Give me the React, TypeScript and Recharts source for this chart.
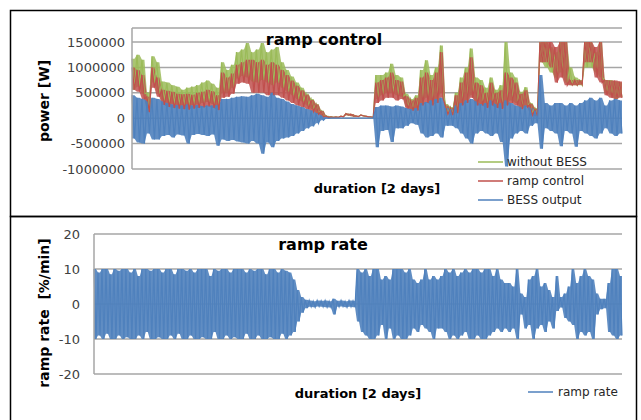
import React from 'react';
import { ComposedChart, Line, Area, XAxis, YAxis, CartesianGrid } from 'recharts';

// power readings in kW, top and bottom of the noisy band, one pair every ~5 px of the 2 days
const withoutBessHi = [
  1170, 1250, 1150, 500, 1220, 1100, 720, 700, 650, 620,
  560, 600, 620, 650, 700, 740, 680, 600, 1100, 950,
  1050, 1300, 1350, 1480, 1300, 1350, 1480, 1300, 1350, 1400,
  1100, 950, 820, 700, 600, 480, 380, 280, 150, 50,
  30, 25, 40, 90, 80, 45, 65, 40, 25, 850,
  850, 900, 1070, 850, 800, 480, 380, 450, 950, 1140,
  850, 1000, 1430, 280, 220, 500, 800, 1000, 1370, 800,
  750, 600, 800, 560, 650, 1500, 900, 800, 520, 610,
  300, 200, 1500, 1500, 1400, 1300, 1500, 1500, 1000, 800,
  750, 1500, 1500, 1300, 1500, 750, 750, 720, 700,
];
const withoutBessLo = [
  560, 620, 480, 160, 700, 480, 330, 300, 280, 260,
  250, 240, 260, 270, 300, 320, 280, 220, 500, 500,
  600, 780, 830, 800, 720, 700, 750, 700, 650, 700,
  600, 520, 450, 380, 330, 250, 180, 100, 40, 15,
  15, 18, 25, 60, 40, 30, 45, 25, 18, 380,
  450, 500, 500, 450, 420, 220, 170, 180, 300, 400,
  300, 350, 500, 100, 80, 120, 300, 350, 450, 300,
  280, 250, 300, 230, 220, 300, 350, 300, 200, 250,
  100, 50, 1100, 1000, 900, 800, 900, 700, 650, 650,
  650, 1000, 1000, 900, 800, 500, 450, 380, 420,
];
const rampHi = [
  1000, 950, 850, 420, 1000, 800, 560, 540, 520, 480,
  470, 480, 460, 500, 520, 560, 530, 450, 900, 800,
  880, 1050, 1100, 1150, 1150, 1100, 1150, 1050, 1100, 1050,
  950, 850, 740, 640, 550, 460, 360, 270, 140, 45,
  25, 25, 40, 90, 80, 45, 65, 40, 25, 700,
  750, 800, 900, 750, 720, 430, 350, 400, 800, 900,
  750, 900, 1300, 250, 200, 450, 700, 900, 1200, 700,
  650, 500, 700, 500, 550, 900, 800, 700, 480, 550,
  280, 180, 1500, 1500, 1500, 1400, 1500, 1500, 750, 750,
  740, 1500, 1500, 1400, 1500, 750, 740, 740, 720,
];
const rampLo = [
  560, 520, 380, 120, 600, 420, 260, 220, 200, 190,
  180, 170, 190, 200, 210, 230, 200, 160, 400, 420,
  480, 680, 700, 680, 500, 500, 500, 450, 450, 450,
  400, 350, 300, 250, 220, 180, 130, 80, 30, 12,
  15, 18, 25, 60, 40, 30, 45, 25, 18, 300,
  350, 400, 400, 350, 380, 190, 150, 150, 250, 300,
  250, 300, 400, 80, 60, 100, 250, 300, 400, 250,
  250, 200, 250, 200, 180, 250, 300, 250, 180, 220,
  60, 40, 1100, 1100, 1000, 700, 800, 650, 650, 650,
  660, 1100, 1100, 800, 700, 450, 400, 380, 400,
];
const bessHi = [
  450, 400, 380, 330, 400, 380, 330, 300, 270, 260,
  250, 270, 250, 260, 240, 250, 250, 260, 380, 380,
  400, 420, 430, 420, 450, 480, 450, 420, 500, 400,
  380, 330, 280, 250, 220, 180, 150, 100, 50, 10,
  0, 0, 0, 0, 0, 0, 0, 0, 0, 220,
  250, 250, 230, 250, 230, 200, 180, 200, 300, 320,
  350, 380, 400, 200, 180, 250, 300, 350, 380, 330,
  280, 300, 350, 280, 300, 350, 300, 250, 220, 250,
  200, 150, 850, 300, 250, 300, 300, 250, 300, 250,
  300, 350, 400, 350, 400, 250, 350, 380, 350,
];
const bessLo = [
  -400, -480, -500, -300, -420, -420, -350, -330, -380, -320,
  -340, -500, -330, -310, -330, -350, -320, -540, -420, -450,
  -430, -460, -480, -500, -450, -500, -700, -480, -570, -450,
  -400, -380, -350, -300, -250, -200, -160, -100, -40, -5,
  0, 0, 0, 0, 0, 0, 0, 0, 0, -570,
  -250, -230, -470, -200, -200, -150, -100, -130, -300, -380,
  -350, -300, -380, -150, -150, -200, -300, -400, -500, -300,
  -250, -300, -350, -300, -470, -950, -400, -300, -250, -300,
  -150, -100, -600, -200, -250, -300, -550, -250, -300, -560,
  -250, -300, -350, -400, -300, -200, -300, -350, -300,
];

// ramp rate in %/min, top and bottom of the band, one pair every ~4 px
const rampRateHi = [
  10, 9, 10, 10, 8.5, 10, 9.5, 10, 10, 9,
  10, 8, 10, 10, 9.5, 10, 10, 9, 10, 10,
  8.5, 10, 10, 9.5, 10, 9, 10, 10, 10, 8,
  10, 9.5, 10, 10, 9, 10, 10, 10, 9, 10,
  9.5, 10, 10, 8.5, 10, 10, 9, 10, 9.5, 9,
  7, 4, 2, 1.2, 1, 0.8, 1, 0.9, 1, 0.8,
  1.5, 0.9, 1, 0.8, 1, 0.9,
  10, 9, 10, 8, 10, 10, 7, 8, 7, 10,
  10, 10, 9, 10, 7, 6, 7, 10, 7, 8,
  7, 8, 10, 9, 10, 8, 9, 10, 9, 10,
  10, 9, 10, 10, 8, 10, 7, 6, 6, 5,
  10, 3, 2, 7, 8, 10, 5, 6, 4, 2,
  8, 2, 3, 5, 10, 6, 8, 10, 8, 7,
  3, 1.5, 1.5, 6, 10, 10, 8,
];
const rampRateLo = [
  -10, -9, -10, -8.5, -10, -10, -9, -10, -9.5, -10,
  -10, -9, -10, -8, -10, -10, -9.5, -10, -10, -9,
  -10, -8.5, -10, -10, -9, -10, -10, -9.5, -10, -10,
  -8, -10, -10, -9, -10, -9.5, -10, -10, -8.5, -10,
  -10, -9, -10, -10, -9.5, -10, -10, -8.5, -10, -9,
  -8, -5, -2.5, -1.2, -0.8, -0.9, -0.7, -0.8, -0.9, -1,
  -3, -0.8, -0.7, -0.9, -0.8, -0.9,
  -5, -8, -9, -10, -10, -9, -6, -10, -7, -10,
  -9, -10, -10, -9, -7, -8, -6, -7, -8, -10,
  -7, -7, -8, -10, -9, -10, -9, -8, -10, -10,
  -9, -10, -10, -9, -8, -7, -8, -7, -8, -7,
  -10, -3, -7, -6, -10, -7, -6, -8, -5, -7,
  -2, -1, -4, -5, -6, -10, -8, -9, -8, -10,
  -3, -1.5, -1.2, -8, -9, -10, -9,
];

const powerTicks = [-1000000, -500000, 0, 500000, 1000000, 1500000];
const rateTicks = [-20, -10, 0, 10, 20];

const GREEN = '#9BBB59';
const RED = '#C0504D';
const BLUE = '#4F81BD';
const GRID = '#A6A6A6';
const FONT = '"DejaVu Sans", sans-serif';

// each reading pair gives two points: the line swings hi -> lo across the band,
// and the [lo, hi] range fills the band behind it
const powerData: any[] = [];
withoutBessHi.forEach((_, i) => {
  const bands = {
    noBessBand: [withoutBessLo[i] * 1000, withoutBessHi[i] * 1000],
    rampBand: [rampLo[i] * 1000, rampHi[i] * 1000],
    bessBand: [bessLo[i] * 1000, bessHi[i] * 1000],
  };
  powerData.push({ t: 2 * i, noBess: withoutBessHi[i] * 1000, ramp: rampHi[i] * 1000, bess: bessHi[i] * 1000, ...bands });
  powerData.push({ t: 2 * i + 1, noBess: withoutBessLo[i] * 1000, ramp: rampLo[i] * 1000, bess: bessLo[i] * 1000, ...bands });
});

const rateData: any[] = [];
rampRateHi.forEach((_, i) => {
  const rateBand = [rampRateLo[i], rampRateHi[i]];
  rateData.push({ t: 2 * i, rate: rampRateHi[i], rateBand });
  rateData.push({ t: 2 * i + 1, rate: rampRateLo[i], rateBand });
});

const tickStyle = { fill: '#404040', fontSize: 13, fontFamily: FONT };

export default function App() {
  return (
    <div style={{ position: 'relative', width: 641, height: 420, background: '#fff', overflow: 'hidden', fontFamily: FONT }}>
      <style>{`body{margin:0}`}</style>

      {/* 上段: power */}
      <div style={{ position: 'absolute', left: 0, top: 0 }}>
        <ComposedChart width={641} height={216} data={powerData} margin={{ top: 28, right: 19, bottom: 47, left: 0 }}>
          <CartesianGrid vertical={false} stroke={GRID} strokeWidth={1.5} />
          <XAxis dataKey="t" type="number" domain={[0, powerData.length - 1]} hide />
          <YAxis
            width={132}
            domain={[-1000000, 1775000]}
            ticks={powerTicks}
            allowDataOverflow
            tickLine={false}
            tickMargin={1}
            axisLine={{ stroke: GRID, strokeWidth: 1.5 }}
            tick={tickStyle}
          />
          <Area dataKey="noBessBand" type="linear" stroke="none" fill={GREEN} fillOpacity={0.85} legendType="none" isAnimationActive={false} />
          <Line dataKey="noBess" stroke={GREEN} strokeWidth={1.2} dot={false} type="linear" isAnimationActive={false} />
          <Area dataKey="rampBand" type="linear" stroke="none" fill={RED} fillOpacity={0.85} legendType="none" isAnimationActive={false} />
          <Line dataKey="ramp" stroke={RED} strokeWidth={1.2} dot={false} type="linear" isAnimationActive={false} />
          <Area dataKey="bessBand" type="linear" stroke="none" fill={BLUE} fillOpacity={0.9} legendType="none" isAnimationActive={false} />
          <Line dataKey="bess" stroke={BLUE} strokeWidth={1.2} dot={false} type="linear" isAnimationActive={false} />
        </ComposedChart>
      </div>

      {/* 下段: ramp rate */}
      <div style={{ position: 'absolute', left: 0, top: 216 }}>
        <ComposedChart width={641} height={204} data={rateData} margin={{ top: 18, right: 19, bottom: 46, left: 0 }}>
          <CartesianGrid vertical={false} stroke={GRID} strokeWidth={1.5} />
          <XAxis dataKey="t" type="number" domain={[0, rateData.length - 1]} hide />
          <YAxis
            width={94}
            domain={[-20, 20]}
            ticks={rateTicks}
            tickLine={false}
            tickMargin={8}
            axisLine={{ stroke: GRID, strokeWidth: 1.5 }}
            tick={tickStyle}
          />
          <Area dataKey="rateBand" type="linear" stroke="none" fill={BLUE} fillOpacity={0.9} legendType="none" isAnimationActive={false} />
          <Line dataKey="rate" stroke={BLUE} strokeWidth={1.2} dot={false} type="linear" isAnimationActive={false} />
        </ComposedChart>
      </div>

      {/* titles, legends, frames */}
      <svg width={641} height={420} style={{ position: 'absolute', left: 0, top: 0, pointerEvents: 'none' }} fontFamily={FONT}>
        <rect x={10.5} y={10.5} width={626} height={206} fill="none" stroke="#000" strokeWidth={1.5} />
        <rect x={10.5} y={216.5} width={626} height={215} fill="none" stroke="#000" strokeWidth={1.5} />

        <text x={324} y={45} textAnchor="middle" fontSize={16} fontWeight="bold">ramp control</text>
        <text transform="translate(49,101) rotate(-90)" textAnchor="middle" fontSize={14} fontWeight="bold">power [W]</text>
        <text x={377} y={193} textAnchor="middle" fontSize={13} fontWeight="bold">duration [2 days]</text>
        {[
          { name: 'without BESS', color: GREEN, y: 162 },
          { name: 'ramp control', color: RED, y: 181 },
          { name: 'BESS output', color: BLUE, y: 200 },
        ].map((item) => (
          <g key={item.name}>
            <line x1={478} x2={503} y1={item.y} y2={item.y} stroke={item.color} strokeWidth={1.5} />
            <text x={507} y={item.y} dominantBaseline="central" fontSize={12} fill="#262626">{item.name}</text>
          </g>
        ))}

        <text x={323} y={250} textAnchor="middle" fontSize={16} fontWeight="bold">ramp rate</text>
        <text transform="translate(49,313) rotate(-90)" textAnchor="middle" fontSize={14} fontWeight="bold" style={{ whiteSpace: 'pre' }}>ramp rate  [%/min]</text>
        <text x={358} y={398} textAnchor="middle" fontSize={13} fontWeight="bold">duration [2 days]</text>
        <line x1={528} x2={553} y1={392} y2={392} stroke={BLUE} strokeWidth={1.5} />
        <text x={558} y={392} dominantBaseline="central" fontSize={12} fill="#262626">ramp rate</text>
      </svg>
    </div>
  );
}
